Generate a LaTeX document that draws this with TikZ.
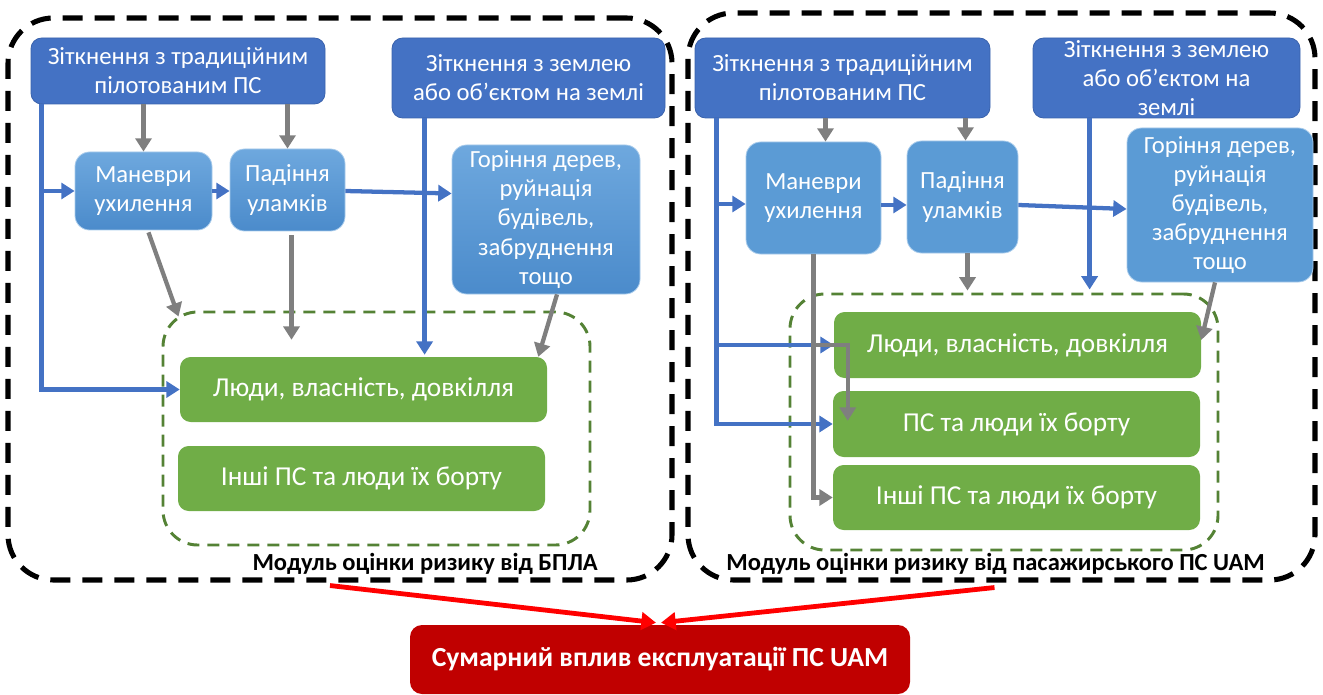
\documentclass[tikz,border=0pt]{standalone}
\usepackage{fontspec}
\setmainfont{Carlito}
\usetikzlibrary{arrows.meta,calc,fit}

\definecolor{bluedark}{HTML}{4472C4}
\definecolor{blueedge}{HTML}{3A62AC}
\definecolor{bluetop}{HTML}{6EA8DE}
\definecolor{bluebot}{HTML}{4B8BCB}
\definecolor{bluemid}{HTML}{5B9BD5}
\definecolor{grn}{HTML}{70AD47}
\definecolor{grndash}{HTML}{548235}
\definecolor{gry}{HTML}{7F7F7F}
\definecolor{arrred}{HTML}{FF0000}
\definecolor{sumred}{HTML}{C00000}

\tikzset{
  darkbox/.style={draw=blueedge, line width=0.6pt, fill=bluedark, rounded corners=8pt, inner sep=0pt},
  midbox/.style={top color=bluetop, bottom color=bluebot, draw=bluetop!60!white,
    line width=0.6pt, rounded corners=11pt, inner sep=0pt},
  flatbox/.style={fill=bluemid, draw=bluetop!60!white, line width=0.6pt, rounded corners=11pt, inner sep=0pt},
  grnbox/.style={fill=grn, rounded corners=8pt, inner sep=0pt},
  sumbox/.style={fill=sumred, rounded corners=9pt, inner sep=0pt},
  btxt/.style={text=white, align=center, inner sep=0pt, font=\fontsize{18.5}{21.8}\selectfont},
  gtxt/.style={text=white, align=center, inner sep=0pt, font=\fontsize{20.5}{24}\selectfont},
  stxt/.style={text=white, align=center, inner sep=0pt, font=\fontsize{20.7}{24}\selectfont\bfseries},
  outerbox/.style={draw=black, line width=3.8pt, dash pattern=on 15pt off 9pt,
    rounded corners=34pt, inner sep=0pt},
  grnframe/.style={draw=grndash, line width=2.2pt, dash pattern=on 9pt off 6pt,
    rounded corners=26pt, inner sep=0pt},
  blarrow/.style={draw=bluedark, line width=3.2pt, -{Triangle[length=10pt,width=12pt]}},
  grarrow/.style={draw=gry, line width=3.2pt, -{Triangle[length=10pt,width=12pt]}},
  redarrow/.style={draw=arrred, line width=3.6pt, -{Triangle[length=11pt,width=13pt]}},
  modlabel/.style={font=\fontsize{18.4}{22}\selectfont\bfseries, text=black, inner sep=0pt},
}

% box spanning two corners, with its text centred inside
\newcommand\rbox[6]{%
  \node[#1, fit={#4 #5}] (#3) {};
  \node[#2] (#3t) at (#3.center) {#6};}

\begin{document}
\begin{tikzpicture}[x=0.75pt,y=-0.75pt]
\useasboundingbox (0,0) rectangle (1323,695);

% ---------- module frames ----------
\node[outerbox, fit={(8,18) (672,580)}] (LO) {};
\node[outerbox, fit={(688,13) (1315,580)}] (RO) {};
\node[grnframe, fit={(163,312) (590,545)}] (LGD) {};
\node[grnframe, fit={(790,294) (1218,550)}] (RGD) {};

% ---------- left module: UAV ----------
\rbox{darkbox}{btxt}{LA}{(31,38)}{(325,104)}{Зіткнення з традиційним\\пілотованим ПС}
\rbox{darkbox}{btxt}{LB}{(392,38)}{(665,118)}{Зіткнення з землею\\або об’єктом на землі}
\rbox{midbox}{btxt}{LC}{(75,152)}{(212,230)}{Маневри\\ухилення}
\rbox{midbox}{btxt}{LD}{(230,149)}{(345,231)}{Падіння\\уламків}
\rbox{midbox}{btxt}{LE}{(452,145)}{(640,294)}{Горіння дерев,\\руйнація\\будівель,\\забруднення\\тощо}
\rbox{grnbox}{gtxt}{LG1}{(180,357)}{(547,422)}{Люди, власність, довкілля}
\rbox{grnbox}{gtxt}{LG2}{(178,446)}{(545,511)}{Інші ПС та люди їх борту}
\node[modlabel, anchor=east] (LL) at (598,564) {Модуль оцінки ризику від БПЛА};

% left connectors
\coordinate (la) at ($(LA.south west)+(11,0)$);
\draw[blarrow] (la) |- (LG1.west);
\draw[blarrow] (la |- LC.west) -- (LC.west);
\draw[blarrow] (LC.east) -- (LC.east -| LD.west);
\draw[blarrow] ($(LD.east)+(0,1)$) -- ($(LE.west)+(0,-26)$);
\coordinate (lb) at ($(LB.south west)+(33,0)$);
\draw[blarrow] (lb) -- ($(lb |- LG1.north)+(0,-2)$);
\draw[grarrow] (LC.north |- LA.south) -- (LC.north);
\draw[grarrow] (LD.north |- LA.south) -- (LD.north);
\draw[grarrow] ($(LC.south)+(5,2)$) -- ($(LGD.north west)+(17,6)$);
\draw[grarrow] ($(LD.south)+(4,4)$) -- ($(LD.south |- LG1.north)+(4,-17)$);
\draw[grarrow] ($(LE.south)+(11,0)$) -- ($(LG1.north east)+(-9,0)$);

% ---------- right module: passenger UAM ----------
\rbox{darkbox}{btxt}{RA}{(695,38)}{(990,118)}{Зіткнення з традиційним\\пілотованим ПС}
\rbox{darkbox}{btxt}{RB}{(1033,38)}{(1300,118)}{Зіткнення з землею\\або об’єктом на\\землі}
\rbox{flatbox}{btxt}{RC}{(746,142)}{(881,254)}{Маневри\\ухилення}
\rbox{flatbox}{btxt}{RD}{(907,141)}{(1018,253)}{Падіння\\уламків}
\rbox{flatbox}{btxt}{RE}{(1127,128)}{(1313,282)}{Горіння дерев,\\руйнація\\будівель,\\забруднення\\тощо}
\rbox{grnbox}{gtxt}{RG1}{(834,312)}{(1201,378)}{Люди, власність, довкілля}
\rbox{grnbox}{gtxt}{RG2}{(833,391)}{(1200,457)}{ПС та люди їх борту}
\rbox{grnbox}{gtxt}{RG3}{(833,465)}{(1200,530)}{Інші ПС та люди їх борту}
\node[modlabel, anchor=east] (RL) at (1265,564) {Модуль оцінки ризику від пасажирського ПС UAM};

% right connectors
\coordinate (ra) at ($(RA.south west)+(22,0)$);
\draw[blarrow] (ra) |- (RG2.west);
\draw[blarrow] ($(ra |- RC.west)+(0,6)$) -- ($(RC.west)+(0,6)$);
\draw[blarrow] (ra |- RG1.west) -- (RG1.west);
\draw[blarrow] ($(RC.east)+(0,7)$) -- ($(RC.east -| RD.west)+(0,7)$);
\draw[blarrow] ($(RD.east)+(0,8)$) -- ($(RE.west)+(0,4)$);
\coordinate (rb) at ($(RB.south west)+(57,0)$);
\draw[blarrow] (rb) -- ($(rb |- RGD.north)+(0,-3)$);
\draw[grarrow] ($(RC.north |- RA.south)+(12,0)$) -- ($(RC.north)+(12,0)$);
\draw[grarrow] ($(RD.north |- RA.south)+(3,0)$) -- ($(RD.north)+(3,0)$);
\draw[grarrow] (RC.south) |- (RG3.west);
\draw[grarrow] (RC.south |- RG1.west) -| ($(RG2.north west)+(15,30)$);
\draw[grarrow] ($(RD.south)+(5,0)$) -- ($(RD.south |- RGD.north)+(5,-2)$);
\draw[grarrow] ($(RE.south)+(-5,0)$) -- ($(RG1.east)+(0,-5)$);

% ---------- total impact ----------
\rbox{sumbox}{stxt}{SUM}{(410,625)}{(910,694)}{Сумарний вплив експлуатації ПС UAM}
\draw[redarrow] ($(LO.south)+(-10,3)$) -- ($(SUM.north)+(-4,-2)$);
\draw[redarrow] ($(RO.south)+(-7,5)$) -- ($(SUM.north)+(1,-2)$);
\end{tikzpicture}
\end{document}
